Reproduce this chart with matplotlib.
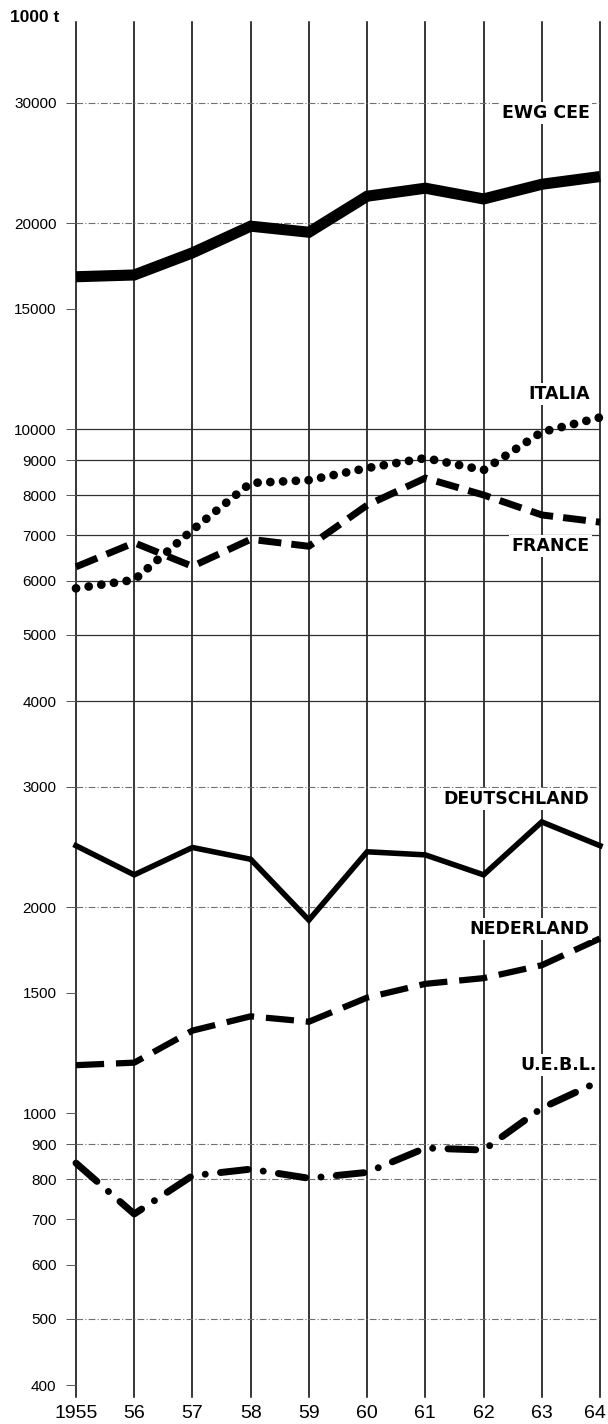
import matplotlib
matplotlib.use("Agg")
import matplotlib.pyplot as plt
from matplotlib.ticker import FixedLocator, NullLocator
from matplotlib.transforms import ScaledTranslation

years = [1955, 1956, 1957, 1958, 1959, 1960, 1961, 1962, 1963, 1964]
year_labels = ["1955", "56", "57", "58", "59", "60", "61", "62", "63", "64"]

ewg_cee = [16700, 16800, 18100, 19800, 19400, 21900, 22500, 21700, 22800, 23400]
italia = [5850, 6020, 7120, 8340, 8420, 8770, 9070, 8710, 9900, 10400]
france = [6290, 6820, 6300, 6900, 6740, 7740, 8480, 8010, 7490, 7310]
deutschland = [2460, 2230, 2445, 2350, 1915, 2410, 2385, 2230, 2665, 2460]
nederland = [1175, 1185, 1320, 1385, 1360, 1475, 1545, 1575, 1645, 1800]
uebl = [845, 712, 810, 828, 803, 819, 889, 883, 1017, 1114]

y_ticks = [400, 500, 600, 700, 800, 900, 1000, 1500, 2000, 3000, 4000, 5000,
           6000, 7000, 8000, 9000, 10000, 15000, 20000, 30000]
grid_solid = [4000, 5000, 6000, 7000, 8000, 9000, 10000]
grid_dashdot = [500, 800, 900, 2000, 3000, 20000, 30000]

fig = plt.figure(figsize=(6.08, 14.24), dpi=100)
ax = fig.add_axes([76 / 608, 1 - 1397 / 1424, 524 / 608, 1375 / 1424])
ax.set_yscale("log")
ax.set_ylim(384.5, 39370)
ax.set_xlim(1955, 1964)

for s in ax.spines.values():
    s.set_visible(False)

# vertical year lines
for yr in years:
    ax.axvline(yr, color="black", lw=1.1, zorder=1, clip_on=False)

# horizontal grid lines
for v in grid_solid:
    ax.axhline(v, color="#303030", lw=0.9, zorder=1)
for v in grid_dashdot:
    ax.axhline(v, color="#707070", lw=0.8, ls=(0, (6, 2, 1, 2)), zorder=1)

ax.yaxis.set_major_locator(FixedLocator(y_ticks))
ax.yaxis.set_minor_locator(NullLocator())
ax.set_yticklabels([str(v) for v in y_ticks], fontsize=11, family="Liberation Sans")
ax.tick_params(axis="y", length=7, width=0.7, color="#555555", pad=7)

ax.set_xticks(years)
ax.set_xticklabels(year_labels, fontsize=14, family="Liberation Sans")
ax.tick_params(axis="x", length=0, pad=6)
# nudge the last year label so it stays inside the figure
last = ax.get_xticklabels()[-1]
last.set_transform(last.get_transform() + ScaledTranslation(-5 / 100, 0, fig.dpi_scale_trans))

# series
ax.plot(years, ewg_cee, color="black", lw=8, solid_joinstyle="miter",
        solid_capstyle="butt", zorder=3, clip_on=False)
ax.plot(years, italia, color="black", lw=6.3, dashes=(0.01, 1.45),
        dash_capstyle="round", zorder=3, clip_on=False)
ax.plot(years, france, color="black", lw=5, dashes=(3.3, 1.45),
        dash_capstyle="butt", zorder=3, clip_on=False)
ax.plot(years, deutschland, color="black", lw=4, solid_joinstyle="miter",
        zorder=3, clip_on=False)
ax.plot(years, nederland, color="black", lw=4.5, dashes=(4.5, 1.9),
        dash_capstyle="butt", zorder=3, clip_on=False)
ax.plot(years, uebl, color="black", lw=5, dashes=(4.0, 2.2, 0.01, 2.2),
        dash_capstyle="round", zorder=3, clip_on=False)

# series labels
labels = [("EWG CEE", 28970), ("ITALIA", 11250), ("FRANCE", 6745),
          ("DEUTSCHLAND", 2878), ("NEDERLAND", 1858), ("U.E.B.L.", 1175)]
for txt, yv in labels:
    ax.text(1963.82 if txt != "U.E.B.L." else 1963.95, yv, txt, ha="right", va="center",
            fontsize=12.5, fontweight="bold", family="DejaVu Sans", zorder=4,
            bbox=dict(facecolor="white", edgecolor="none", pad=1.5))

fig.text(10 / 608, 1 - 17 / 1424, "1000 t", ha="left", va="center",
         fontsize=12.5, fontweight="bold", family="Liberation Sans")

fig.savefig("out.png", dpi=100)
